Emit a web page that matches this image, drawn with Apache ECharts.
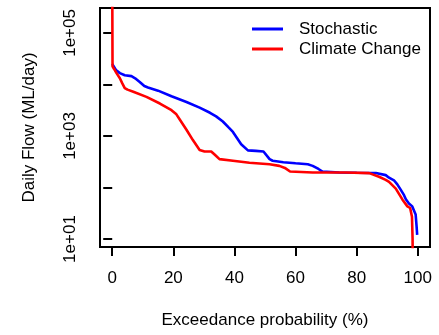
<!DOCTYPE html>
<html>
<head>
<meta charset="utf-8">
<script src="https://cdn.jsdelivr.net/npm/echarts@6/dist/echarts.min.js"></script>
<style>
html,body{margin:0;padding:0;background:#fff;}
#c{width:439px;height:335px;}
</style>
</head>
<body>
<div id="c"></div>
<script>
// Exceedance probability (%) and daily flow (ML/day)
const stochasticP = [0, 0.5, 1.2, 2.5, 4.1, 6.3, 7.5, 9.0, 10.5, 11.7, 15.0, 19.4, 24.3, 28.6, 32.0, 34.0, 36.2, 38.0, 39.5, 42.2, 44.4, 47.0, 49.5, 51.5, 52.5, 56.0, 60.0, 64.0, 65.6, 67.5, 68.8, 74.3, 80.0, 86.3, 89.5, 90.6, 92.2, 93.3, 94.4, 95.5, 96.1, 97.1, 98.2, 98.8, 99.3, 99.6, 99.8];
const stochasticQ = [25100, 22400, 19100, 16600, 15100, 14500, 13200, 11200, 9330, 8710, 7590, 5890, 4570, 3550, 2820, 2400, 1910, 1480, 1200, 692, 525, 513, 501, 355, 331, 309, 295, 282, 263, 229, 204, 195, 193, 191, 174, 155, 138, 115, 91, 71, 59, 49, 43, 40, 30, 18, 12];

const climateP = [0, 0.1, 0.6, 1.4, 2.5, 3.3, 4.1, 5.0, 6.9, 11.2, 15.6, 19.4, 21.0, 22.1, 24.3, 26.4, 28.6, 30.2, 32.4, 33.5, 35.1, 39.5, 44.9, 51.5, 54.7, 56.5, 58.2, 65.6, 76.5, 84.1, 87.3, 89.5, 90.6, 92.8, 95.0, 96.6, 97.5, 98.1, 98.3, 98.4];
const climateQ = [1200000, 22400, 20000, 16600, 13200, 10500, 8510, 7940, 7240, 5750, 4270, 3160, 2630, 2090, 1320, 832, 537, 501, 501, 437, 355, 331, 302, 282, 263, 240, 204, 195, 195, 190, 162, 141, 129, 95, 58, 43, 40, 27, 10, 1];

const xTicks = [0, 20, 40, 60, 80, 100];
const yTicks = [10, 100, 1000, 10000, 100000];
const yLabels = [10, 1000, 100000];

const seriesNames = ['Stochastic', 'Climate Change'];
const seriesColors = ['#0000ff', '#ff0000'];

const font = 'Liberation Sans, Arial, sans-serif';
const pairs = (xs, ys) => xs.map((x, i) => [x, ys[i]]);

const chart = echarts.init(document.getElementById('c'), null, {renderer: 'canvas'});
chart.setOption({
  animation: false,
  backgroundColor: '#fff',
  grid: {left: 100, right: 9, top: 8, bottom: 88, show: true, borderColor: '#000', borderWidth: 2, backgroundColor: 'transparent'},
  legend: {
    orient: 'vertical', left: 252, top: 19, padding: 0, itemWidth: 31, itemHeight: 3, itemGap: 0, icon: 'rect',
    data: seriesNames,
    textStyle: {fontFamily: font, fontSize: 17, color: '#000', lineHeight: 20, padding: [0, 0, 0, 11]}
  },
  xAxis: {
    type: 'value', min: -4, max: 104,
    name: 'Exceedance probability (%)', nameLocation: 'middle', nameGap: 65,
    nameTextStyle: {fontFamily: font, fontSize: 17, color: '#000'},
    axisLine: {show: false},
    splitLine: {show: false},
    axisTick: {show: true, length: 9, lineStyle: {color: '#000', width: 2}, customValues: xTicks},
    axisLabel: {fontFamily: font, fontSize: 17, color: '#000', margin: 23, customValues: xTicks}
  },
  yAxis: {
    type: 'log', logBase: 10, min: 7, max: 305000,
    name: 'Daily Flow (ML/day)', nameLocation: 'middle', nameGap: 62, nameRotate: 90,
    nameTextStyle: {fontFamily: font, fontSize: 17, color: '#000'},
    axisLine: {show: false},
    splitLine: {show: false},
    axisTick: {show: true, length: 9, lineStyle: {color: '#000', width: 2}, customValues: yTicks},
    axisLabel: {
      fontFamily: font, fontSize: 17, color: '#000', margin: 21, rotate: 90, customValues: yLabels,
      formatter: v => '1e+' + String(Math.round(Math.log10(v))).padStart(2, '0')
    }
  },
  series: [
    {name: seriesNames[0], type: 'line', data: pairs(stochasticP, stochasticQ), showSymbol: false, symbol: 'none', clip: true,
     lineStyle: {color: seriesColors[0], width: 2.6}, itemStyle: {color: seriesColors[0]}},
    {name: seriesNames[1], type: 'line', data: pairs(climateP, climateQ), showSymbol: false, symbol: 'none', clip: true,
     lineStyle: {color: seriesColors[1], width: 2.6}, itemStyle: {color: seriesColors[1]}}
  ]
});
</script>
</body>
</html>
